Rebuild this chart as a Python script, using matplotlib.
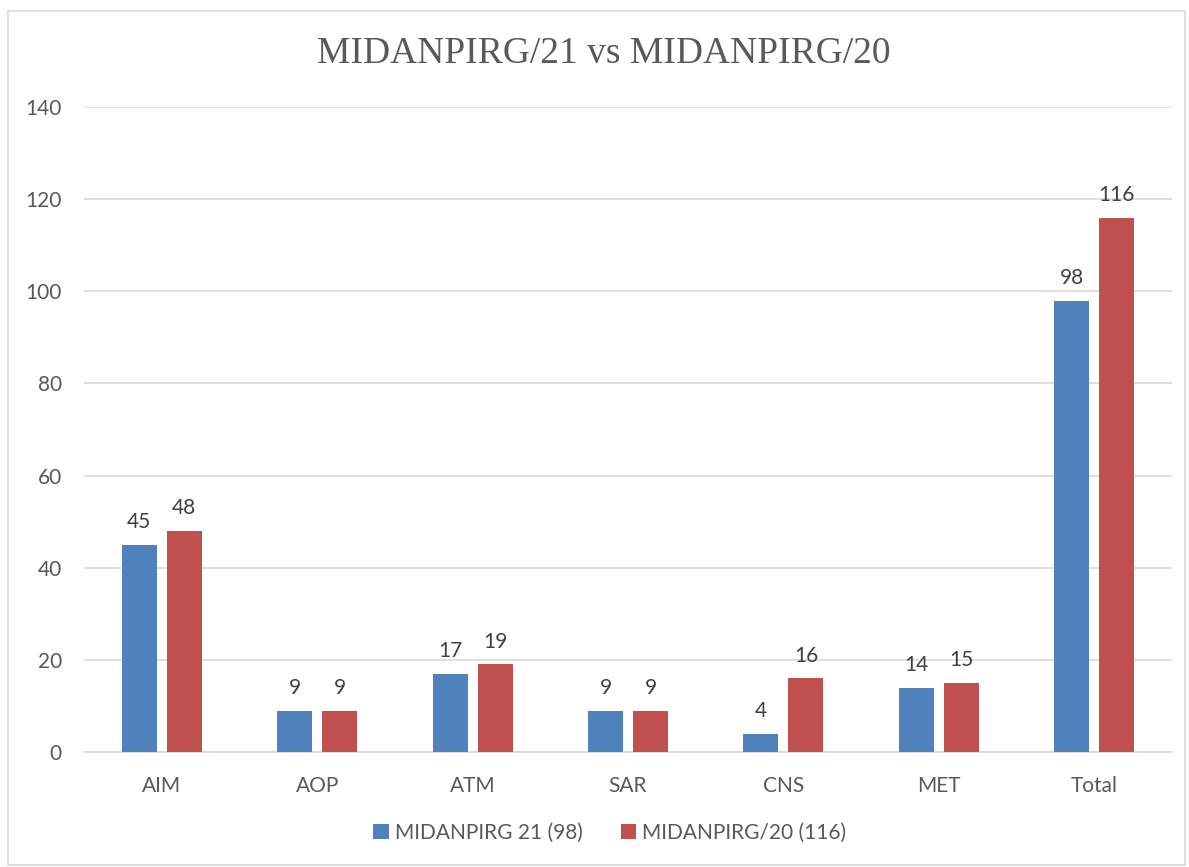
import numpy as np
import matplotlib.pyplot as plt
from matplotlib.patches import Rectangle

categories = ['AIM', 'AOP', 'ATM', 'SAR', 'CNS', 'MET', 'Total']
values_21 = [45, 9, 17, 9, 4, 14, 98]
values_20 = [48, 9, 19, 9, 16, 15, 116]
label_21 = 'MIDANPIRG 21 (98)'
label_20 = 'MIDANPIRG/20 (116)'

blue = '#4F81BD'
red = '#C0504D'
text_col = '#595959'
grid_col = '#D9D9D9'

plt.rcParams['font.family'] = ['Lato', 'DejaVu Sans']

fig = plt.figure(figsize=(11.89, 8.67), dpi=100)
ax = fig.add_axes([84 / 1189, 1 - 752 / 867, (1172 - 84) / 1189, (752 - 107) / 867])

# chart border
fig.patches.append(Rectangle((8 / 1189, 1 - 865 / 867), 1177 / 1189, (865 - 11) / 867,
                             transform=fig.transFigure, fill=False, edgecolor='#D9D9D9', lw=1.2))

x = np.arange(len(categories))
w = 0.225
off = 0.145
b1 = ax.bar(x - off, values_21, w, color=blue, label=label_21, zorder=3)
b2 = ax.bar(x + off, values_20, w, color=red, label=label_20, zorder=3)

for bars in (b1, b2):
    for rect in bars:
        h = rect.get_height()
        ax.annotate(f'{h:g}', (rect.get_x() + rect.get_width() / 2, h),
                    xytext=(0, 9), textcoords='offset points', ha='center', va='bottom',
                    fontsize=15, color='#404040')

ax.set_xlim(-0.5, len(categories) - 0.5)
ax.set_ylim(0, 140)
ax.set_yticks(np.arange(0, 141, 20))
ax.set_xticks(x)
ax.set_xticklabels(categories)
ax.tick_params(axis='both', length=0, labelsize=15, colors=text_col)
ax.tick_params(axis='y', pad=16)
ax.tick_params(axis='x', pad=17)
ax.yaxis.grid(True, color=grid_col, lw=1.2, zorder=0)
for s in ['top', 'right', 'left']:
    ax.spines[s].set_visible(False)
ax.spines['bottom'].set_color(grid_col)
ax.spines['bottom'].set_linewidth(1.2)

fig.text(604 / 1189, 1 - 54 / 867, 'MIDANPIRG/21 vs MIDANPIRG/20', ha='center', va='center',
         fontsize=27, color=text_col, family='Liberation Serif')

fig.legend(loc='center', bbox_to_anchor=(610 / 1189, 1 - 833 / 867), ncol=2, frameon=False,
           fontsize=15, labelcolor=text_col, handlelength=0.75, handleheight=0.75,
           handletextpad=0.3, columnspacing=1.8)

fig.savefig('out.png', dpi=100)
